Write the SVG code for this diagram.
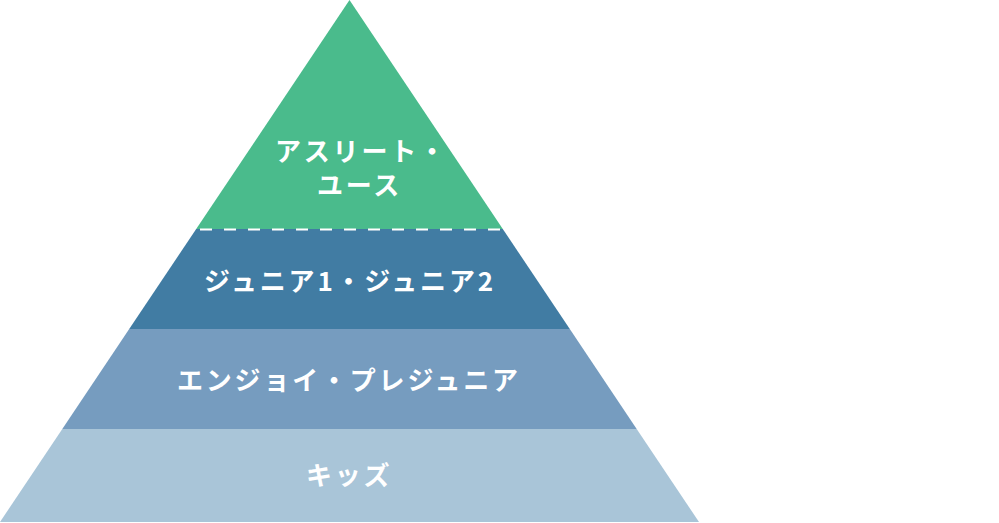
<svg xmlns="http://www.w3.org/2000/svg" width="999" height="523" viewBox="0 0 999 523">
<style>
.lbl{font-family:"Noto Sans CJK JP","Noto Sans",sans-serif;font-weight:700;font-size:26px;letter-spacing:2.8px;fill:#ffffff}
</style>
<rect width="999" height="523" fill="#ffffff"/>
<g id="layer-athlete">
<polygon points="349.5,0 196.2,229 502.8,229" fill="#4abb8c"/>
<text class="lbl" x="275" y="161">アスリート・</text>
<text class="lbl" x="317" y="195">ユース</text>
</g>
<g id="layer-junior">
<polygon points="196.2,229 502.8,229 569.8,329 129.2,329" fill="#417ca3"/>
<text class="lbl" x="204" y="291">ジュニア1・ジュニア2</text>
</g>
<g id="layer-enjoy">
<polygon points="129.2,329 569.8,329 636.7,429 62.3,429" fill="#769cbf"/>
<text class="lbl" x="177" y="390">エンジョイ・プレジュニア</text>
</g>
<g id="layer-kids">
<polygon points="62.3,429 636.7,429 699,522 0,522" fill="#a9c5d8"/>
<text class="lbl" x="306" y="485">キッズ</text>
</g>
<g id="connectors">
<line x1="200" y1="229.5" x2="500" y2="229.5" stroke="#ffffff" stroke-width="2" stroke-dasharray="12 12"/>
</g>
</svg>
